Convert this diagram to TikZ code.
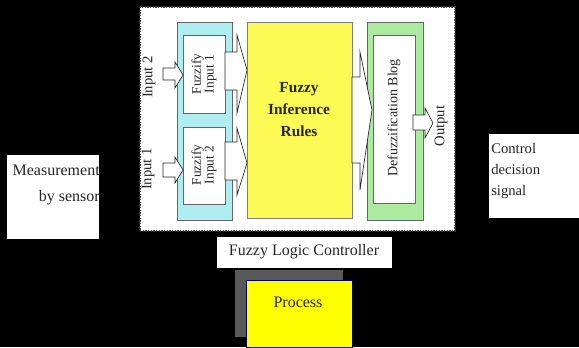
\documentclass[tikz,border=0pt]{standalone}
\usepackage{fontspec}
\setmainfont{Liberation Serif}
\definecolor{fuzcyan}{RGB}{175,238,240}
\definecolor{fuzgreen}{RGB}{170,235,160}
\definecolor{fuzyellow}{RGB}{252,250,85}
\definecolor{procyellow}{RGB}{255,255,0}

\begin{document}
\begin{tikzpicture}[x=0.75pt, y=-0.75pt,
  box/.style={draw=black!60, line width=0.6pt},
  blockarr/.style={fill=white, draw=black!85, line width=0.5pt, line join=miter},
  lbl/.style={inner sep=0pt, text=black!85}]
  % Background
  \fill[black] (0,0) rectangle (579,347);
  \useasboundingbox (0,0) rectangle (579,347);

  % Controller panel
  \fill[white] (140,7) rectangle (455,231);
  \draw[black!75, line width=1pt, densely dotted] (140,7) rectangle (455,231);

  % Fuzzification stage
  \filldraw[box, fill=fuzcyan] (177,22) rectangle (232,220);
  \filldraw[box, fill=white] (183,35) rectangle (225,113);
  \filldraw[box, fill=white] (183,127) rectangle (225,204);
  \node[lbl, rotate=90, align=center, font=\fontsize{10}{9.5}\selectfont] (fuz1) at (204,74) {Fuzzify\\Input 1};
  \node[lbl, rotate=90, align=center, font=\fontsize{10}{9.5}\selectfont] (fuz2) at (204,165) {Fuzzify\\Input 2};

  % Arrows into the rules
  \draw[blockarr] (225,52) -- (237,52) -- (237,35) -- (247,70) -- (237,113) -- (237,90) -- (225,90) -- cycle;
  \draw[blockarr] (225,142) -- (237,142) -- (237,128) -- (247,163) -- (237,195) -- (237,180) -- (225,180) -- cycle;

  % Inference rules
  \filldraw[draw=black!50, line width=0.6pt, fill=fuzyellow] (247,22) rectangle (352,218);
  \node[lbl, align=center, font=\fontsize{11.5}{16.5}\selectfont\bfseries] (rules) at (299,110) {Fuzzy\\Inference\\Rules};

  % Defuzzification stage
  \filldraw[box, fill=fuzgreen] (367,22) rectangle (423,220);
  \filldraw[box, fill=white] (373,35) rectangle (415,203);
  \node[lbl, rotate=90, font=\fontsize{10.5}{12}\selectfont] (defuz) at (394,118) {Defuzzification Blog};
  \draw[blockarr] (352,77) -- (360,77) -- (360,52) -- (372,110) -- (360,190) -- (360,163) -- (352,163) -- cycle;

  % Inputs and output
  \draw[blockarr] (163,68) -- (175,68) -- (175,62) -- (183,75) -- (175,88) -- (175,80) -- (163,80) -- cycle;
  \draw[blockarr] (163,163) -- (175,163) -- (175,157) -- (183,170) -- (175,183) -- (175,177) -- (163,177) -- cycle;
  \draw[blockarr] (413,115) -- (425,115) -- (425,108) -- (433,123) -- (425,138) -- (425,130) -- (413,130) -- cycle;
  \node[lbl, rotate=90, font=\fontsize{11}{12}\selectfont] (in2) at (149,77) {Input 2};
  \node[lbl, rotate=90, font=\fontsize{11}{12}\selectfont] (in1) at (148,169) {Input 1};
  \node[lbl, rotate=90, font=\fontsize{11}{12}\selectfont] (out) at (441,126) {Output};

  % Side labels
  \fill[white] (7,155) rectangle (99,239);
  \node[lbl, anchor=east, align=right, font=\fontsize{12}{20}\selectfont] (meas) at (100,185) {Measurement\\by sensor};
  \fill[white] (489,134) rectangle (579,218);
  \node[lbl, anchor=west, align=left, font=\fontsize{11}{16}\selectfont] (ctrl) at (491,171) {Control\\decision\\signal};

  % Controller caption
  \fill[white] (217,237) rectangle (392,268);
  \node[lbl, font=\fontsize{12}{14}\selectfont] (flc) at (304,252) {Fuzzy Logic Controller};

  % Process block
  \fill[black!65] (235,270) rectangle (343,337);
  \filldraw[draw=blue!40!black, line width=0.6pt, fill=procyellow] (246,280) rectangle (352,347);
  \node[lbl, font=\fontsize{12}{14}\selectfont] (proc) at (298,302) {Process};
\end{tikzpicture}
\end{document}
